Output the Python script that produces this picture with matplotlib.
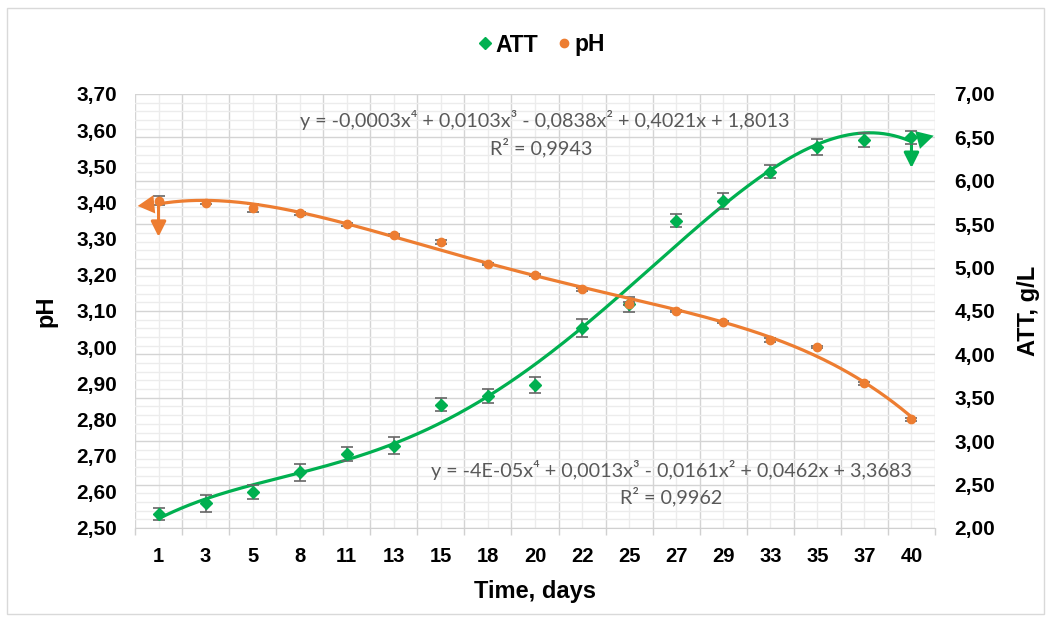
import numpy as np
import matplotlib
matplotlib.use("Agg")
import matplotlib.pyplot as plt
from matplotlib.ticker import FixedLocator, NullFormatter, MultipleLocator, FuncFormatter
from matplotlib.patches import Rectangle

plt.rcParams['font.family'] = ['Liberation Sans', 'DejaVu Sans']
plt.rcParams['font.weight'] = 'bold'

# data
days = [1, 3, 5, 8, 11, 13, 15, 18, 20, 22, 25, 27, 29, 33, 35, 37, 40]
ph = [3.405, 3.40, 3.385, 3.37, 3.34, 3.31, 3.29, 3.23, 3.20, 3.16,
      3.12, 3.10, 3.07, 3.02, 3.00, 2.90, 2.80]
ph_err = [0.013, 0.005, 0.011, 0.004, 0.004, 0.004, 0.006, 0.004, 0.003,
          0.004, 0.004, 0.003, 0.003, 0.005, 0.002, 0.004, 0.003]
att = [2.16, 2.285, 2.41, 2.64, 2.855, 2.95, 3.42, 3.52, 3.65, 4.30,
       4.58, 5.54, 5.77, 6.105, 6.39, 6.47, 6.50]
att_err = [0.07, 0.10, 0.08, 0.095, 0.08, 0.10, 0.075, 0.085, 0.095, 0.105,
           0.086, 0.075, 0.09, 0.075, 0.09, 0.085, 0.077]

eq_att = "y = -0,0003x\u2074 + 0,0103x\u00b3 - 0,0838x\u00b2 + 0,4021x + 1,8013"
r2_att = "R\u00b2 = 0,9943"
eq_ph = "y = -4E-05x\u2074 + 0,0013x\u00b3 - 0,0161x\u00b2 + 0,0462x + 3,3683"
r2_ph = "R\u00b2 = 0,9962"

green = '#00b050'
orange = '#ed7d31'
errc = '#666666'
gray_txt = '#595959'

pos = np.arange(1, len(days) + 1)

fig = plt.figure(figsize=(10.51, 6.28), dpi=100)
ax = fig.add_axes([135 / 1051, 100 / 628, 800 / 1051, 434 / 628])
ax2 = ax.twinx()
ax.set_zorder(ax2.get_zorder() + 1)
ax.patch.set_visible(False)

# x axis: categories
ax.set_xlim(0.5, len(days) + 0.5)
ax.xaxis.set_major_locator(FixedLocator(np.arange(0.5, len(days) + 1, 1)))
ax.xaxis.set_major_formatter(NullFormatter())
ax.set_xticks(pos, labels=[str(d) for d in days], minor=True)
ax.tick_params(axis='x', which='major', length=5, color='#d0d0d0', width=1)
ax.tick_params(axis='x', which='minor', length=0, pad=14, labelsize=14.5)

# y axes
fmt = FuncFormatter(lambda v, _: f"{v:.2f}".replace('.', ','))
ax.set_ylim(2.5, 3.7)
ax.set_yticks(np.arange(2.5, 3.7001, 0.1))
ax.yaxis.set_major_formatter(fmt)
ax.tick_params(axis='y', length=0, pad=13, labelsize=15)

ax2.set_ylim(2.0, 7.0)
ax2.set_yticks(np.arange(2.0, 7.001, 0.5))
ax2.yaxis.set_minor_locator(MultipleLocator(0.1))
ax2.yaxis.set_major_formatter(fmt)
ax2.tick_params(axis='y', which='both', length=0, pad=14, labelsize=15)

# gridlines all on the lower axes
ax2.xaxis.set_visible(True)
ax2.tick_params(axis='x', which='both', length=0, labelbottom=False, labeltop=False)
ax2.grid(axis='both', which='major', color='#d4d4d4', lw=1)
ax2.grid(axis='both', which='minor', color='#ececec', lw=1)
ax2.set_axisbelow(True)

for a in (ax, ax2):
    for s in a.spines.values():
        s.set_visible(False)
ax.spines['bottom'].set_visible(True)
ax.spines['bottom'].set_color('#d0d0d0')

head_fill = '<|-,head_length=0.6,head_width=0.33'
head_down = '<|-,head_length=0.5,head_width=0.25'

# ATT series (right axis)
c_att = np.polyfit(pos, att, 4)
xa = np.linspace(1, len(days), 300)
ya = np.polyval(c_att, xa)
ax2.plot(xa, ya, color=green, lw=2.3, zorder=3)
ax2.annotate('', xy=(xa[-1], ya[-1]), xytext=(16, 4.3), textcoords='offset points',
             arrowprops=dict(arrowstyle=head_fill, color=green, lw=0,
                             mutation_scale=20, shrinkA=0, shrinkB=0))
ax2.errorbar(pos, att, yerr=att_err, fmt='none', ecolor=errc, elinewidth=1.2,
             capsize=4, capthick=1.2, zorder=4)
h_att, = ax2.plot(pos, att, 'D', color=green, ms=6, zorder=5, label='ATT')
ax2.annotate('', xy=(pos[-1], att[-1]), xytext=(0, -22), textcoords='offset points',
             arrowprops=dict(arrowstyle=head_down, color=green, lw=2.2,
                             mutation_scale=18, shrinkA=0, shrinkB=0))

# pH series (left axis)
c_ph = np.polyfit(pos, ph, 4)
xp = np.linspace(1, len(days), 300)
yp = np.polyval(c_ph, xp)
ax.errorbar(pos, ph, yerr=ph_err, fmt='none', ecolor=errc, elinewidth=1.2,
            capsize=4, capthick=1.2, zorder=2)
ax.plot(xp, yp, color=orange, lw=2.3, zorder=3)
ax.annotate('', xy=(xp[0], yp[0]), xytext=(-15, -1.5), textcoords='offset points',
            arrowprops=dict(arrowstyle=head_fill, color=orange, lw=0,
                            mutation_scale=20, shrinkA=0, shrinkB=0))
h_ph, = ax.plot(pos, ph, 'o', color=orange, ms=6, zorder=5, label='pH')
ax.annotate('', xy=(pos[0], ph[0]), xytext=(0, -26), textcoords='offset points',
            arrowprops=dict(arrowstyle=head_down, color=orange, lw=2.2,
                            mutation_scale=18, shrinkA=0, shrinkB=0))

# trendline equations
eqfont = dict(family=['Lato', 'DejaVu Sans'], fontweight='normal', color=gray_txt,
              fontsize=14.2, ha='center', va='center', transform=ax.transAxes, zorder=6)
ax.text(0.5125, 0.940, eq_att, **eqfont)
ax.text(0.5075, 0.876, r2_att, **eqfont)
ax.text(0.67, 0.134, eq_ph, **eqfont)
ax.text(0.67, 0.072, r2_ph, **eqfont)

# axis titles
ax.set_xlabel('Time, days', fontsize=17, fontweight='bold')
ax.xaxis.set_label_coords(0.5, -0.12)
ax.set_ylabel('pH', fontsize=17, fontweight='bold')
ax.yaxis.set_label_coords(-0.0975, 0.5)
ax2.set_ylabel('ATT, g/L', fontsize=17, fontweight='bold')
ax2.yaxis.set_label_coords(1.1025, 0.5)

fig.legend(handles=[h_att, h_ph], labels=['ATT', 'pH'], loc='center',
           bbox_to_anchor=(541 / 1051, 1 - 45 / 628), ncol=2, frameon=False,
           handlelength=0.7, handletextpad=0.12, columnspacing=0.75,
           prop=dict(size=16.5, weight='bold'))

fig.patches.append(Rectangle((7 / 1051, 1 - 614 / 628), 1037 / 1051, 606 / 628,
                             transform=fig.transFigure, fill=False,
                             ec='#d9d9d9', lw=1))

fig.savefig('out.png', dpi=100)
